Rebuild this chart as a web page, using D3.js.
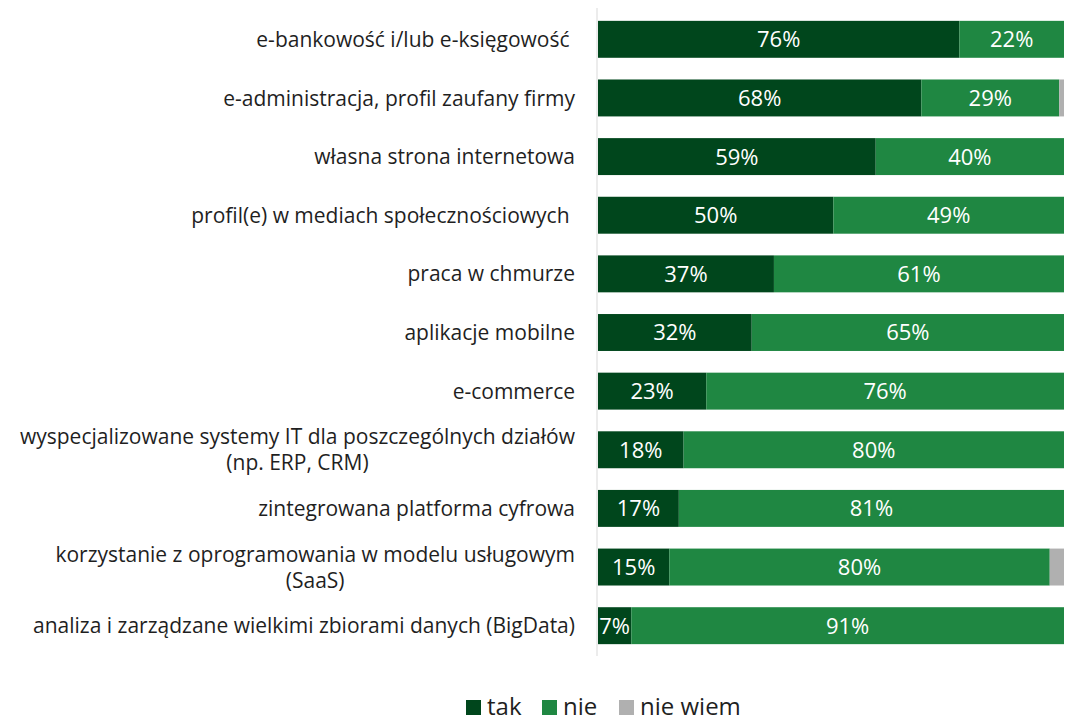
<!DOCTYPE html>
<html>
<head>
<meta charset="utf-8">
<script src="https://cdn.jsdelivr.net/npm/d3@7"></script>
<style>
  body { margin: 0; background: #fff; }
  text { font-family: "Open Sans", sans-serif; }
</style>
</head>
<body>
<svg id="chart" width="1065" height="718"></svg>
<script>
// categories (top to bottom), lines split where the label wraps
var categories = [
  ["e-bankowość i/lub e-księgowość "],
  ["e-administracja, profil zaufany firmy"],
  ["własna strona internetowa"],
  ["profil(e) w mediach społecznościowych "],
  ["praca w chmurze"],
  ["aplikacje mobilne"],
  ["e-commerce"],
  ["wyspecjalizowane systemy IT dla poszczególnych działów", "(np. ERP, CRM)"],
  ["zintegrowana platforma cyfrowa"],
  ["korzystanie z oprogramowania w modelu usługowym", "(SaaS)"],
  ["analiza i zarządzane wielkimi zbiorami danych (BigData)"]
];
var tak     = [76, 68, 59, 50, 37, 32, 23, 18, 17, 15, 7];
var nie     = [22, 29, 40, 49, 61, 65, 76, 80, 81, 80, 91];
var nieWiem = [0, 1, 0, 0, 0, 0, 0, 0, 0, 3, 0];

var seriesNames = ["tak", "nie", "nie wiem"];
var colors = ["#00461c", "#1f8742", "#b0b0b0"];

var svg = d3.select("#chart");

// plot area
var plotLeft = 598, plotRight = 1064, plotTop = 10, plotBottom = 655;

var rows = categories.map(function (c, i) {
  return { i: i, tak: tak[i], nie: nie[i], "nie wiem": nieWiem[i] };
});

var stack = d3.stack().keys(seriesNames).offset(d3.stackOffsetExpand);
var series = stack(rows);

var x = d3.scaleLinear().domain([0, 1]).range([plotLeft, plotRight]);
var y = d3.scaleBand().domain(d3.range(categories.length))
    .range([plotTop, plotBottom]).paddingInner(0.37).paddingOuter(0.185);

// bars
var groups = svg.append("g").selectAll("g").data(series).enter()
  .append("g")
  .attr("fill", function (d, i) { return colors[i]; });

groups.selectAll("rect").data(function (d) { return d; }).enter()
  .append("rect")
  .attr("x", function (d) { return x(d[0]); })
  .attr("y", function (d) { return y(d.data.i); })
  .attr("width", function (d) { return x(d[1]) - x(d[0]); })
  .attr("height", y.bandwidth());

// value labels (tak and nie only)
series.slice(0, 2).forEach(function (s) {
  svg.append("g").selectAll("text").data(s).enter()
    .append("text")
    .attr("x", function (d) { return (x(d[0]) + x(d[1])) / 2; })
    .attr("y", function (d) { return y(d.data.i) + y.bandwidth() / 2; })
    .attr("dy", "0.36em")
    .attr("text-anchor", "middle")
    .attr("fill", "#fff")
    .style("font-size", "22px")
    .text(function (d) { return d.data[s.key] + "%"; });
});

// vertical axis line
svg.append("line")
  .attr("x1", plotLeft - 1).attr("x2", plotLeft - 1)
  .attr("y1", plotTop - 2).attr("y2", plotBottom + 1)
  .attr("stroke", "#d9d9d9").attr("stroke-width", 1);

// category labels, wrapped lines centred inside a right-aligned block
var labelRight = 575, lineH = 26;
categories.forEach(function (lines, i) {
  var g = svg.append("g");
  var cy = y(i) + y.bandwidth() / 2;
  var y0 = cy - (lines.length - 1) * lineH / 2;
  var texts = lines.map(function (t, k) {
    return g.append("text")
      .attr("y", y0 + k * lineH)
      .attr("dy", "0.36em")
      .attr("text-anchor", "middle")
      .attr("fill", "#1f1f1f")
      .style("font-size", "21px")
      .style("white-space", "pre")
      .text(t);
  });
  var w = d3.max(texts, function (t) { return t.node().getComputedTextLength(); });
  texts.forEach(function (t) { t.attr("x", labelRight - w / 2); });
});

// legend
var legendX = [466, 542, 619];
var legend = svg.append("g").selectAll("g").data(seriesNames).enter()
  .append("g")
  .attr("transform", function (d, i) { return "translate(" + legendX[i] + ",700)"; });
legend.append("rect")
  .attr("width", 15).attr("height", 15)
  .attr("fill", function (d, i) { return colors[i]; });
legend.append("text")
  .attr("x", 21).attr("y", 7).attr("dy", "0.35em")
  .attr("fill", "#1f1f1f")
  .style("font-size", "24px")
  .text(function (d) { return d; });
</script>
</body>
</html>
